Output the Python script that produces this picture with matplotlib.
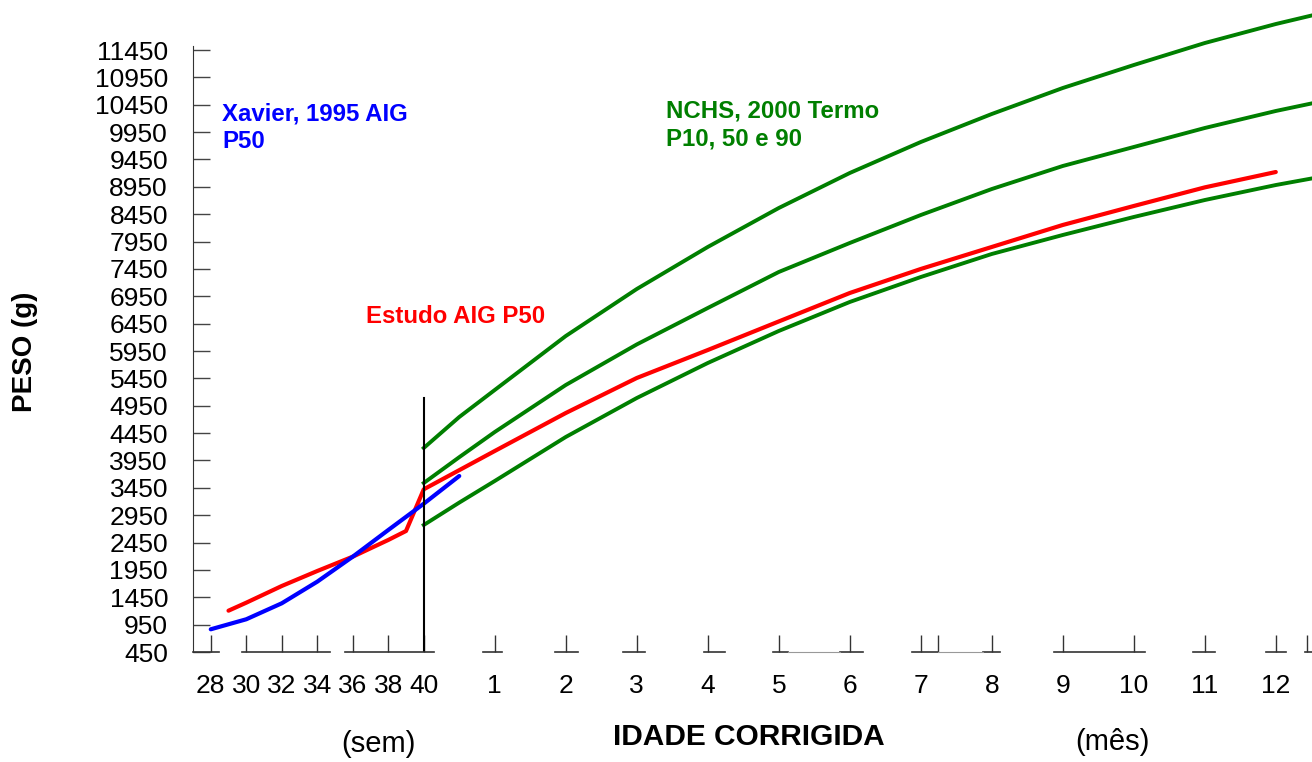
import matplotlib
matplotlib.use("Agg")
import matplotlib.pyplot as plt
import numpy as np

plt.rcParams['font.family'] = ['Liberation Sans', 'DejaVu Sans']

# ---- dados ----
# idade gestacional (semanas) -> convertida para meses após o termo
sem_xavier = [28, 30, 32, 34, 36, 38, 40, 42]
peso_xavier = [865, 1048, 1340, 1735, 2192, 2679, 3160, 3666]

sem_estudo = [29, 30, 32, 34, 36, 38, 39]
peso_estudo_sem = [1205, 1351, 1656, 1930, 2192, 2497, 2661]
mes_estudo = [0, 1, 2, 3, 4, 5, 6, 7, 8, 9, 10, 11, 12]
peso_estudo_mes = [3423, 4123, 4817, 5457, 5968, 6490, 7010, 7449, 7851, 8253, 8600, 8940, 9221]

mes_nchs = [0, 0.5, 1, 2, 3, 4, 5, 6, 7, 8, 9, 10, 11, 12, 12.6]
nchs_p90 = [4178, 4744, 5238, 6224, 7083, 7851, 8563, 9203, 9769, 10281, 10756, 11176, 11578, 11925, 12110]
nchs_p50 = [3538, 4010, 4470, 5329, 6070, 6736, 7394, 7924, 8435, 8910, 9331, 9678, 10025, 10336, 10500]
nchs_p10 = [2771, 3180, 3575, 4379, 5091, 5731, 6316, 6846, 7302, 7723, 8070, 8399, 8709, 8983, 9125]

sem_labels = [28, 30, 32, 34, 36, 38, 40]
mes_labels = list(range(1, 13))
y_ticks = list(range(450, 11451, 500))


def sem_to_x(s):
    return (np.asarray(s, dtype=float) - 40) / 4.0


fig = plt.figure(figsize=(13.12, 7.62), dpi=100)
ax = fig.add_axes([193 / 1312, 1 - 652 / 762, 1 - 193 / 1312, 652 / 762])
ax.set_xlim(-3.25, 12.51)
ax.set_ylim(450, 12364)

green = '#007f00'
ax.plot(mes_nchs, nchs_p90, color=green, lw=2.8)
ax.plot(mes_nchs, nchs_p50, color=green, lw=2.8)
ax.plot(mes_nchs, nchs_p10, color=green, lw=2.8)

x_est = np.concatenate([sem_to_x(sem_estudo), mes_estudo])
y_est = peso_estudo_sem + peso_estudo_mes
ax.plot(x_est, y_est, color='red', lw=3, solid_capstyle='round')
ax.plot(sem_to_x(sem_xavier), peso_xavier, color='blue', lw=3, solid_capstyle='round')

# linha vertical do termo
ax.plot([0, 0], [450, 5090], color='black', lw=1.5)

# eixo y
for s in ['top', 'right', 'bottom']:
    ax.spines[s].set_visible(False)
ax.spines['left'].set_bounds(450, 11520)
ax.spines['left'].set_color('#333333')
ax.set_yticks(y_ticks)
ax.tick_params(axis='y', direction='in', length=12, width=1, color='#444444',
               labelsize=19, pad=18)

# eixo x: marcas e linha de base interrompida
xt = list(sem_to_x(sem_labels)) + mes_labels
ax.set_xticks(xt)
ax.set_xticklabels([str(v) for v in sem_labels] + [str(v) for v in mes_labels])
ax.set_xticks([7.24, 12.44], minor=True)
ax.tick_params(axis='x', which='both', direction='in', length=12, width=1,
               color='#333333', labelsize=19, pad=16)
base = [(-3.25, -2.89), (-2.56, -1.32), (-1.11, 0.14), (0.83, 1.10), (1.85, 2.17),
        (2.80, 3.11), (3.94, 4.24), (4.92, 5.13), (5.86, 6.18), (6.87, 7.24),
        (7.88, 8.11), (8.87, 10.16), (10.83, 11.14), (11.86, 12.14), (12.41, 12.51)]
for a, b in base:
    ax.plot([a, b], [450, 450], color='#333333', lw=1.2, clip_on=False)
for a, b in [(5.13, 5.86), (7.24, 7.88)]:
    ax.plot([a, b], [450, 450], color='#999999', lw=0.8, clip_on=False)

# textos
fig.text(222 / 1312, 1 - 128 / 762, 'Xavier, 1995 AIG\nP50', color='blue',
         fontsize=17.3, fontweight='bold', va='center', ha='left', linespacing=1.25)
fig.text(666 / 1312, 1 - 125 / 762, 'NCHS, 2000 Termo\nP10, 50 e 90', color=green,
         fontsize=17.3, fontweight='bold', va='center', ha='left', linespacing=1.25)
fig.text(366 / 1312, 1 - 316 / 762, 'Estudo AIG P50', color='red',
         fontsize=17.3, fontweight='bold', va='center', ha='left')
fig.text(25 / 1312, 1 - 352 / 762, 'PESO (g)', rotation=90, fontsize=20,
         fontweight='bold', va='center', ha='center')
fig.text(749 / 1312, 1 - 737 / 762, 'IDADE CORRIGIDA', fontsize=21.5,
         fontweight='bold', va='center', ha='center')
fig.text(378 / 1312, 1 - 744 / 762, '(sem)', fontsize=21, va='center', ha='center')
fig.text(1112 / 1312, 1 - 742 / 762, '(mês)', fontsize=21, va='center', ha='center')

fig.savefig('out.png', dpi=100)
